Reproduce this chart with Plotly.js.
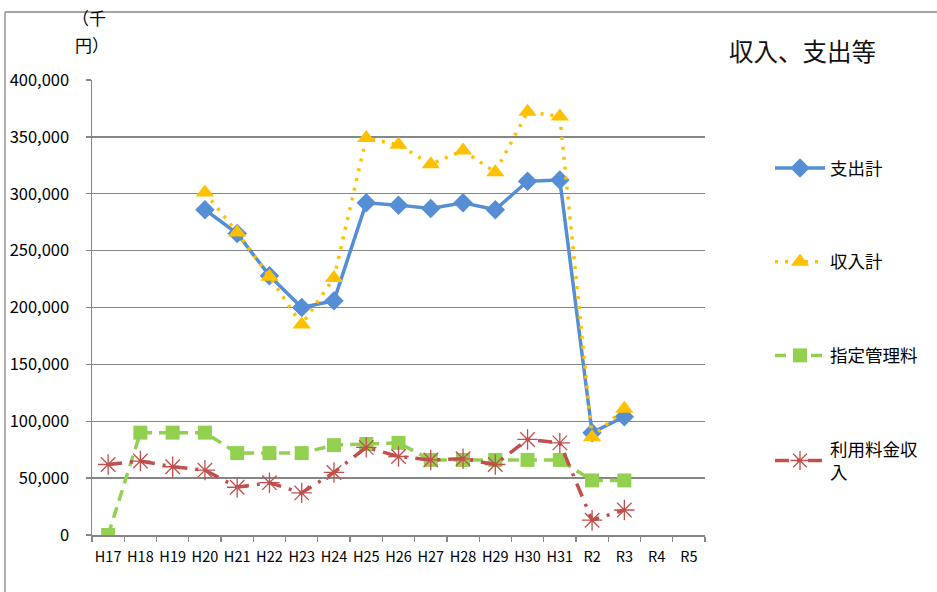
<!DOCTYPE html>
<html>
<head>
<meta charset="utf-8">
<script src="https://cdn.plot.ly/plotly-3.0.1.min.js"></script>
<style>html,body{margin:0;padding:0;background:#fff;}#chart{width:937px;height:592px;}</style>
</head>
<body>
<div id="chart"></div>
<script>
const categories = ["H17","H18","H19","H20","H21","H22","H23","H24","H25","H26","H27","H28","H29","H30","H31","R2","R3","R4","R5"];
const expenseTotal = [null,null,null,286000,265000,228000,200000,206000,292000,290000,287000,292000,286000,311000,312000,90000,104000,null,null];
const incomeTotal = [null,null,null,301000,266000,227000,185000,226000,349000,343000,326000,338000,319000,372000,368000,86000,111000,null,null];
const managementFee = [0,90000,90000,90000,72000,72000,72000,79000,80000,81000,66000,66000,66000,66000,66000,48000,48000,null,null];
const usageFeeIncome = [62000,65000,60000,57000,42000,46000,37000,55000,77000,69000,66000,67000,62000,84000,81000,13000,22000,null,null];
const seriesNames = ["支出計","収入計","指定管理料","利用料金収<br>入"];
const yTicks = [0,50000,100000,150000,200000,250000,300000,350000,400000];
const yTickText = ["0","50,000","100,000","150,000","200,000","250,000","300,000","350,000","400,000"];

const FONT = '"Noto Sans CJK JP", "Noto Sans", sans-serif';
const L = 92, R = 705, T = 80, B = 535;
const px = x => (x - L) / (R - L);
const py = y => (B - y) / (B - T);

const traces = [
  {x: categories, y: expenseTotal, name: seriesNames[0], legendgroup: 'a', mode: 'lines+markers',
   line: {color: '#558ED5', width: 3.5}, marker: {symbol: 'diamond', size: 15, color: '#558ED5'}},
  {x: categories, y: incomeTotal, name: seriesNames[1], legendgroup: 'b', mode: 'lines+markers',
   line: {color: '#FFC000', width: 3.5, dash: '3px,7px'}, marker: {symbol: 'triangle-up', size: 16, color: '#FFC000'}},
  {x: categories, y: managementFee, name: seriesNames[2], legendgroup: 'c', mode: 'lines+markers',
   line: {color: '#92D050', width: 3.5, dash: '11px,7px'}, marker: {symbol: 'square', size: 14, color: '#92D050'}},
  {x: categories, y: usageFeeIncome, name: seriesNames[3], legendgroup: 'd', mode: 'lines+markers',
   line: {color: '#C0504D', width: 3.5, dash: '14px,8px,3px,8px'}, marker: {symbol: 'asterisk-open', size: 17, color: '#C0504D', line: {color: '#C0504D', width: 1.3}}}
];

const layout = {
  width: 937, height: 592,
  margin: {l: L, r: 937 - R, t: T, b: 592 - B, pad: 0},
  paper_bgcolor: '#fff', plot_bgcolor: '#fff',
  font: {family: FONT, size: 15, color: '#000'},
  showlegend: true,
  hovermode: false,
  legend: {x: px(770), y: py(150), xanchor: 'left', yanchor: 'top', tracegroupgap: 68, itemwidth: 50,
           font: {family: FONT, size: 17.5, color: '#000'}, bgcolor: 'rgba(0,0,0,0)'},
  xaxis: {type: 'category', range: [-0.5, 18.5], showgrid: false, showline: true, linecolor: '#868686', linewidth: 1.5,
          ticks: 'outside', tickson: 'boundaries', ticklen: 5, tickcolor: '#868686', tickwidth: 1.3, tickangle: 0,
          ticklabelstandoff: 8,
          tickfont: {family: FONT, size: 14.5, color: '#000'}, fixedrange: true},
  yaxis: {range: [0, 400000], tickvals: yTicks, ticktext: yTickText, showgrid: true, gridcolor: '#868686', gridwidth: 1.3,
          showline: true, linecolor: '#868686', linewidth: 1.5, ticks: 'outside', ticklen: 5, tickcolor: '#868686', tickwidth: 1.3,
          ticklabelstandoff: 13, zeroline: false, tickfont: {family: FONT, size: 16.5, color: '#000'}, fixedrange: true},
  annotations: [
    {xref: 'paper', yref: 'paper', x: px(727), y: py(50), xanchor: 'left', yanchor: 'middle', showarrow: false,
     text: '収入、支出等', font: {family: FONT, size: 24.5, color: '#111'}},
    {xref: 'paper', yref: 'paper', x: px(70), y: py(17), xanchor: 'left', yanchor: 'middle', showarrow: false,
     text: '（千', font: {family: FONT, size: 17, color: '#000'}},
    {xref: 'paper', yref: 'paper', x: px(73), y: py(44), xanchor: 'left', yanchor: 'middle', showarrow: false,
     text: '円）', font: {family: FONT, size: 17, color: '#000'}}
  ],
  shapes: [
    {type: 'line', xref: 'paper', yref: 'paper', x0: px(5), x1: px(5), y0: py(12), y1: py(600), line: {color: '#868686', width: 1.3}},
    {type: 'line', xref: 'paper', yref: 'paper', x0: px(5), x1: px(940), y0: py(12), y1: py(12), line: {color: '#868686', width: 1.3}}
  ]
};

Plotly.newPlot('chart', traces, layout, {displayModeBar: false, staticPlot: true});
</script>
</body>
</html>
